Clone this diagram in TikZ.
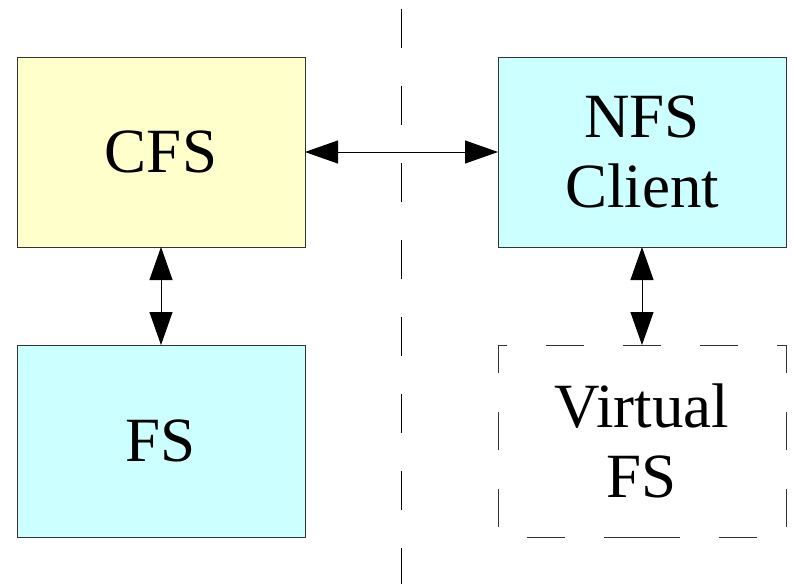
\documentclass[tikz,border=0pt]{standalone}
\usepackage{fontspec}
\setmainfont{Liberation Serif}
\usetikzlibrary{arrows.meta}
\definecolor{paleyellow}{HTML}{FFFFCC}
\definecolor{palecyan}{HTML}{CCFFFF}
\definecolor{edgegrey}{HTML}{333333}
\begin{document}
\begin{tikzpicture}[x=1pt,y=-1pt,
  block/.style={draw=edgegrey, line width=0.9pt, inner sep=0pt, outer sep=0pt,
    minimum width=288pt, minimum height=190pt, align=center,
    font=\fontsize{63}{70}\selectfont},
  ghost/.style={block, draw=none},
  boxdash/.style={draw=edgegrey, line width=0.9pt, dash pattern=on 38pt off 39pt},
  split/.style={draw=black, line width=1.2pt, dash pattern=on 39pt off 38pt},
  link/.style={draw=black, line width=0.9pt,
    {Triangle[length=33pt,width=23pt]}-{Triangle[length=33pt,width=23pt]}}]
  \useasboundingbox (0,0) rectangle (793,584);

  % separator between the two sides
  \coordinate (septop) at (401.5,9);
  \coordinate (sepbot) at (401.5,584);
  \draw[split] (septop) -- (sepbot);

  % blocks
  \node[block, fill=paleyellow] (cfs) at (161,152) {CFS};
  \node[block, fill=palecyan, minimum height=192pt] (fs) at (161,441) {FS};
  \node[block, fill=palecyan] (nfs) at (642,152) {NFS\\Client};
  \node[ghost, minimum height=192pt] (vfs) at (642,441) {Virtual\\FS};

  % dashed outline of the virtual file system
  \draw[boxdash, dash phase=29pt] (vfs.north west) -- (vfs.north east);
  \draw[boxdash, dash phase=10pt] (vfs.north west) -- (vfs.south west);
  \draw[boxdash, dash phase=10pt] (vfs.north east) -- (vfs.south east);
  \draw[boxdash, dash phase=48pt] (vfs.south west) -- (vfs.south);
  \draw[boxdash, dash phase=48pt] (vfs.south east) -- (vfs.south);

  % connectors
  \draw[link] (cfs.east) -- (nfs.west);
  \draw[link] (cfs.south) -- (fs.north);
  \draw[link] (nfs.south) -- (vfs.north);
\end{tikzpicture}
\end{document}
